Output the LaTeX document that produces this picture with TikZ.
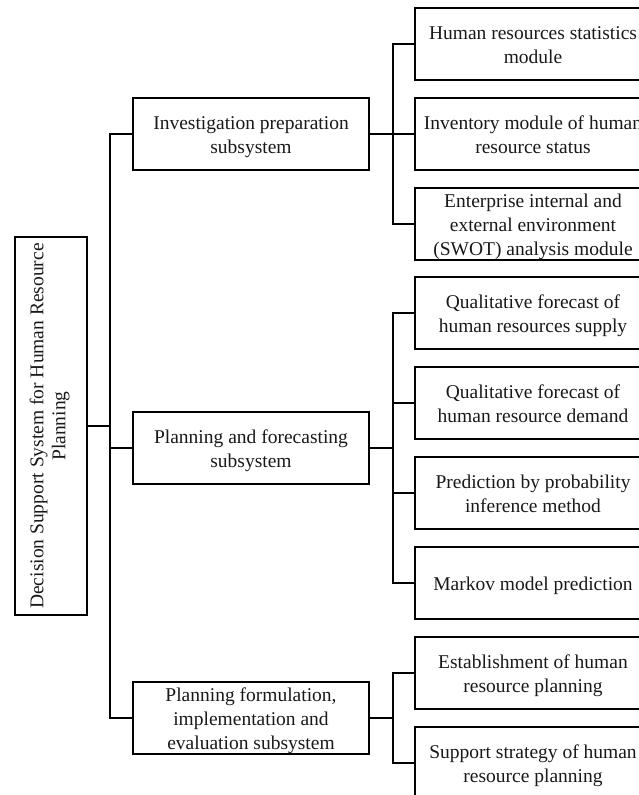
\documentclass[tikz,border=0pt]{standalone}
\usepackage{fontspec}
\setmainfont{Liberation Serif}
% centred lines of a box, set a little below the optical centre
\newcommand\boxlines[2][-3pt]{\raisebox{#1}[\height][\depth]{%
  \begin{tabular}{@{}c@{}}#2\end{tabular}}}
\begin{document}
\begin{tikzpicture}[x=1pt,y=-1pt,
  box/.style={draw, line width=1.6pt, minimum width=236pt, minimum height=72pt,
    inner sep=0pt, align=center, text=black!90,
    font=\fontsize{19.5}{24}\selectfont},
  link/.style={line width=1.6pt}]
\useasboundingbox (0,0) rectangle (639,795);
\clip (0,0) rectangle (639,795);

% root (text runs bottom to top)
\node[box, rotate=90, minimum width=378pt, minimum height=72pt,
  font=\fontsize{19.5}{22}\selectfont] (root) at (51,426)
  {\boxlines[1pt]{Decision Support System for Human Resource\\Planning}};

% subsystems
\node[box] (m1) at (251,134) {\boxlines{Investigation preparation\\subsystem}};
\node[box] (m2) at (251,448) {\boxlines{Planning and forecasting\\subsystem}};
\node[box] (m3) at (251,718) {\boxlines{Planning formulation,\\implementation and\\evaluation subsystem}};

% modules of the investigation subsystem
\node[box] (r11) at (533,44)  {\boxlines{Human resources statistics\\module}};
\node[box] (r12) at (533,134) {\boxlines{Inventory module of human\\resource status}};
\node[box] (r13) at (533,224) {\boxlines{Enterprise internal and\\external environment\\(SWOT) analysis module}};

% modules of the forecasting subsystem
\node[box] (r21) at (533,313) {\boxlines{Qualitative forecast of\\human resources supply}};
\node[box] (r22) at (533,403) {\boxlines{Qualitative forecast of\\human resource demand}};
\node[box] (r23) at (533,493) {\boxlines{Prediction by probability\\inference method}};
\node[box] (r24) at (533,583) {\boxlines{Markov model prediction}};

% modules of the formulation subsystem
\node[box] (r31) at (533,673) {\boxlines{Establishment of human\\resource planning}};
\node[box] (r32) at (533,763) {\boxlines{Support strategy of human\\resource planning}};

% branch points
\coordinate (c0) at (110,427);
\coordinate (s1) at (393,134);
\coordinate (s2) at (393,448);
\coordinate (s3) at (393,718);

% root to subsystems
\draw[link] (root.south) -- (root.south -| c0);
\draw[link] (m1.west) -| (c0) |- (m3.west);
\draw[link] (m2.west) -- (m2.west -| c0);

% investigation subsystem
\draw[link] (m1.east) -- (s1);
\draw[link] (r11.west) -| (s1) |- (r13.west);
\draw[link] (r12.west) -- (r12.west -| s1);

% forecasting subsystem
\draw[link] (m2.east) -- (s2);
\draw[link] (r21.west) -| (s2) |- (r24.west);
\draw[link] (r22.west) -- (r22.west -| s2);
\draw[link] (r23.west) -- (r23.west -| s2);

% formulation subsystem
\draw[link] (m3.east) -- (s3);
\draw[link] (r31.west) -| (s3) |- (r32.west);
\end{tikzpicture}
\end{document}
